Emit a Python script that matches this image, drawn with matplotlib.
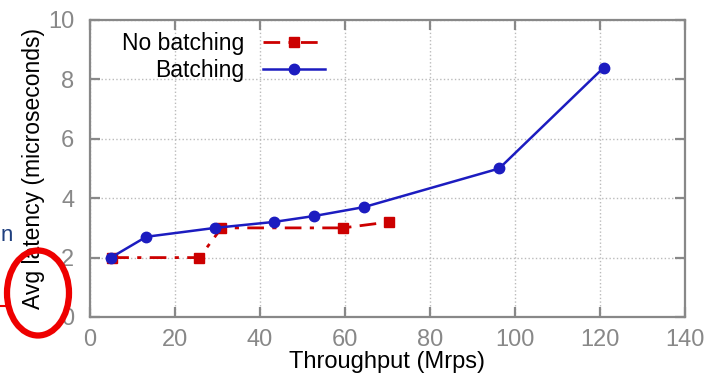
import matplotlib
matplotlib.use("Agg")
import matplotlib.pyplot as plt
from matplotlib.patches import Ellipse
from matplotlib.lines import Line2D

plt.rcParams['font.family'] = ['Liberation Sans', 'DejaVu Sans']

nobatch_x = [5.3, 25.8, 31.0, 59.6, 70.4]
nobatch_y = [2.0, 2.0, 3.0, 3.0, 3.2]
batch_x = [5.0, 13.3, 29.5, 43.3, 52.8, 64.5, 96.3, 120.9]
batch_y = [2.0, 2.7, 3.0, 3.2, 3.4, 3.7, 5.0, 8.4]
xticks = [0, 20, 40, 60, 80, 100, 120, 140]
yticks = [0, 2, 4, 6, 8, 10]

fig = plt.figure(figsize=(7.1, 3.75), dpi=100)
ax = fig.add_axes([0.1263, 0.1547, 0.8385, 0.792])

red = '#cc0000'
blue = '#1c1cc0'
gray = '#888888'

ax.plot(nobatch_x, nobatch_y, color=red, linestyle=(0, (6, 3, 1.5, 3)), linewidth=2,
        marker='s', markersize=7, label='No batching', zorder=3)
ax.plot(batch_x, batch_y, color=blue, linestyle='-', linewidth=1.8,
        marker='o', markersize=7.5, label='Batching', zorder=4)

ax.set_xlim(0, 140)
ax.set_ylim(0, 10)
ax.set_xticks(xticks)
ax.set_yticks(yticks)
ax.grid(True, linestyle=':', color='#bbbbbb', linewidth=1)
for s in ax.spines.values():
    s.set_color(gray)
    s.set_linewidth(1.6)
ax.tick_params(direction='in', length=7, width=1.6, color=gray, labelcolor=gray,
               labelsize=17, top=True, right=True)
ax.tick_params(axis='x', pad=9)
ax.tick_params(axis='y', pad=11)
ax.set_xlabel('Throughput (Mrps)', fontsize=17, labelpad=0)
ax.set_ylabel('Avg latency (microseconds)', fontsize=16.5, labelpad=2)

leg = ax.legend(loc='upper left', bbox_to_anchor=(0.02, 1.03), frameon=False,
                markerfirst=False, fontsize=16.5, handlelength=2.7,
                labelspacing=0.2, handletextpad=0.8)
for t in leg.get_texts():
    t.set_ha('right')
leg._legend_box.align = 'right'

# slide annotations around the chart
fig.patches.append(Ellipse((38 / 710, 1 - 293 / 375), 62 / 710, 85 / 375,
                           transform=fig.transFigure, fill=False,
                           edgecolor='#ee0000', linewidth=4.5, zorder=10))
fig.text(0.001, 1 - 235 / 375, 'n', color='#1f3f7f', fontsize=16,
         ha='left', va='center')
fig.lines.append(Line2D([0.0, 10 / 710], [1 - 306 / 375, 1 - 306 / 375],
                        transform=fig.transFigure, color='#ee0000', linewidth=1.5))

fig.savefig('out.png', dpi=100)
